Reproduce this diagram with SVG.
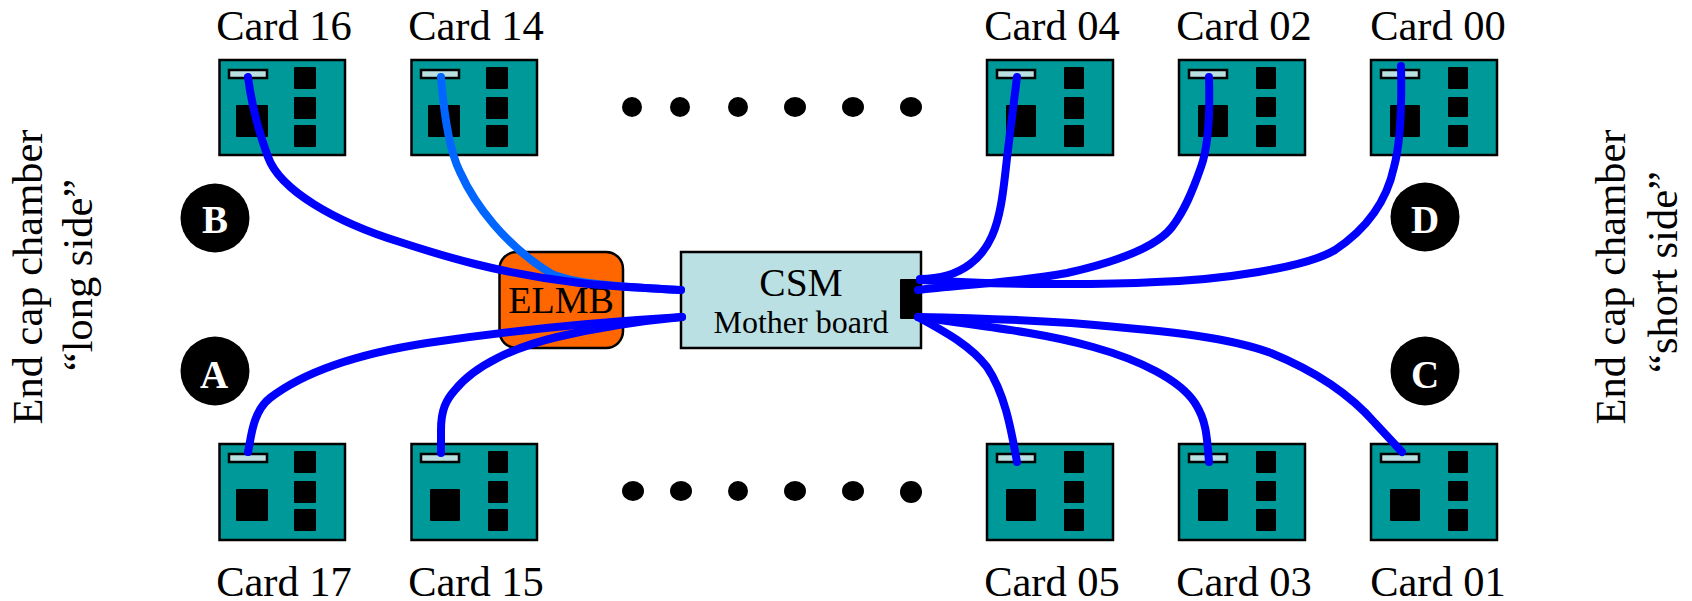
<svg xmlns="http://www.w3.org/2000/svg" width="1692" height="601" viewBox="0 0 1692 601">
<style>
text{font-family:"Liberation Serif","Times New Roman",serif;fill:#000;text-anchor:middle}
.lbl{font-size:42.500px}
.board{fill:#009999;stroke:#000;stroke-width:2.5}
.slot{fill:#BBE0E3;stroke:#000;stroke-width:2.5}
.chip{fill:#000}
.dot{fill:#000}
.badge{fill:#000}
.bt{fill:#fff;font-size:39px;font-weight:bold}
.w{fill:none;stroke:#0000FF;stroke-width:8;stroke-linecap:round;stroke-linejoin:round}
</style>
<rect width="1692" height="601" fill="#fff"/>
<g id="card16"><rect class="board" x="219.500" y="60" width="125.500" height="95"/><rect class="slot" x="229" y="70" width="38" height="8"/><rect class="chip" x="236" y="105" width="32" height="32" rx="1"/><rect class="chip" x="294" y="67" width="22" height="22" rx="1"/><rect class="chip" x="294" y="97" width="22" height="22" rx="1"/><rect class="chip" x="294" y="125" width="22" height="22" rx="1"/><text class="lbl" x="284" y="40">Card 16</text></g>
<g id="card14"><rect class="board" x="411.500" y="60" width="125.500" height="95"/><rect class="slot" x="421" y="70" width="38" height="8"/><rect class="chip" x="428" y="105" width="32" height="32" rx="1"/><rect class="chip" x="486" y="67" width="22" height="22" rx="1"/><rect class="chip" x="486" y="97" width="22" height="22" rx="1"/><rect class="chip" x="486" y="125" width="22" height="22" rx="1"/><text class="lbl" x="476" y="40">Card 14</text></g>
<g id="card04"><rect class="board" x="987" y="60" width="126" height="95"/><rect class="slot" x="997" y="70" width="38" height="8"/><rect class="chip" x="1006" y="105" width="30" height="32" rx="1"/><rect class="chip" x="1064" y="67" width="20" height="22" rx="1"/><rect class="chip" x="1064" y="97" width="20" height="22" rx="1"/><rect class="chip" x="1064" y="125" width="20" height="22" rx="1"/><text class="lbl" x="1052" y="40">Card 04</text></g>
<g id="card02"><rect class="board" x="1179" y="60" width="126" height="95"/><rect class="slot" x="1189" y="70" width="38" height="8"/><rect class="chip" x="1198" y="105" width="30" height="32" rx="1"/><rect class="chip" x="1256" y="67" width="20" height="22" rx="1"/><rect class="chip" x="1256" y="97" width="20" height="20" rx="1"/><rect class="chip" x="1256" y="125" width="20" height="22" rx="1"/><text class="lbl" x="1244" y="40">Card 02</text></g>
<g id="card00"><rect class="board" x="1371" y="60" width="126" height="95"/><rect class="slot" x="1381" y="70" width="38" height="8"/><rect class="chip" x="1390" y="105" width="30" height="32" rx="1"/><rect class="chip" x="1448" y="67" width="20" height="22" rx="1"/><rect class="chip" x="1448" y="97" width="20" height="20" rx="1"/><rect class="chip" x="1448" y="125" width="20" height="22" rx="1"/><text class="lbl" x="1438" y="40">Card 00</text></g>
<g id="card17"><rect class="board" x="219.500" y="444" width="125.500" height="96"/><rect class="slot" x="229" y="454" width="38" height="8"/><rect class="chip" x="236" y="489" width="32" height="32" rx="1"/><rect class="chip" x="294" y="451" width="22" height="22" rx="1"/><rect class="chip" x="294" y="481" width="22" height="22" rx="1"/><rect class="chip" x="294" y="509" width="22" height="22" rx="1"/><text class="lbl" x="284" y="596">Card 17</text></g>
<g id="card15"><rect class="board" x="411.500" y="444" width="125.500" height="96"/><rect class="slot" x="421" y="454" width="38" height="8"/><rect class="chip" x="430" y="489" width="30" height="32" rx="1"/><rect class="chip" x="488" y="451" width="20" height="22" rx="1"/><rect class="chip" x="488" y="481" width="20" height="22" rx="1"/><rect class="chip" x="488" y="509" width="20" height="22" rx="1"/><text class="lbl" x="476" y="596">Card 15</text></g>
<g id="card05"><rect class="board" x="987" y="444" width="126" height="96"/><rect class="slot" x="997" y="454" width="38" height="8"/><rect class="chip" x="1006" y="489" width="30" height="32" rx="1"/><rect class="chip" x="1064" y="451" width="20" height="22" rx="1"/><rect class="chip" x="1064" y="481" width="20" height="22" rx="1"/><rect class="chip" x="1064" y="509" width="20" height="22" rx="1"/><text class="lbl" x="1052" y="596">Card 05</text></g>
<g id="card03"><rect class="board" x="1179" y="444" width="126" height="96"/><rect class="slot" x="1189" y="454" width="38" height="8"/><rect class="chip" x="1198" y="489" width="30" height="32" rx="1"/><rect class="chip" x="1256" y="451" width="20" height="22" rx="1"/><rect class="chip" x="1256" y="481" width="20" height="20" rx="1"/><rect class="chip" x="1256" y="509" width="20" height="22" rx="1"/><text class="lbl" x="1244" y="596">Card 03</text></g>
<g id="card01"><rect class="board" x="1371" y="444" width="126" height="96"/><rect class="slot" x="1381" y="454" width="38" height="8"/><rect class="chip" x="1390" y="489" width="30" height="32" rx="1"/><rect class="chip" x="1448" y="451" width="20" height="22" rx="1"/><rect class="chip" x="1448" y="481" width="20" height="20" rx="1"/><rect class="chip" x="1448" y="509" width="20" height="22" rx="1"/><text class="lbl" x="1438" y="596">Card 01</text></g>
<g id="elmb"><rect x="499.500" y="252" width="123.500" height="96" rx="17" fill="#FF6600" stroke="#000" stroke-width="2.500"/><text x="561" y="313" font-size="38">ELMB</text></g>
<g id="csm"><rect x="681" y="252" width="240" height="96" fill="#BBE0E3" stroke="#000" stroke-width="2.500"/><rect x="900" y="279" width="21.500" height="40" rx="1" fill="#000"/><text x="801" y="296" font-size="39.500">CSM</text><text x="801" y="333" font-size="32">Mother board</text></g>
<g id="badgeB"><circle class="badge" cx="215" cy="218" r="34.500"/><text class="bt" x="215" y="233">B</text></g>
<g id="badgeA"><circle class="badge" cx="215" cy="371" r="34.500"/><text class="bt" x="214" y="388">A</text></g>
<g id="badgeD"><circle class="badge" cx="1425" cy="217" r="34.500"/><text class="bt" x="1425" y="233">D</text></g>
<g id="badgeC"><circle class="badge" cx="1425" cy="371" r="34.500"/><text class="bt" x="1425" y="388">C</text></g>
<g id="dots-top"><ellipse class="dot" cx="632" cy="107" rx="10" ry="10"/><ellipse class="dot" cx="680" cy="107" rx="10" ry="10"/><ellipse class="dot" cx="738" cy="107" rx="10" ry="10"/><ellipse class="dot" cx="795" cy="107" rx="11" ry="10"/><ellipse class="dot" cx="853" cy="107" rx="11" ry="10"/><ellipse class="dot" cx="911" cy="107" rx="11" ry="10"/></g>
<g id="dots-bottom"><ellipse class="dot" cx="633" cy="491" rx="11" ry="10"/><ellipse class="dot" cx="681" cy="491" rx="11" ry="10"/><ellipse class="dot" cx="738" cy="491" rx="10" ry="10"/><ellipse class="dot" cx="795" cy="491" rx="11" ry="10"/><ellipse class="dot" cx="853" cy="491" rx="11" ry="10"/><ellipse class="dot" cx="911" cy="492" rx="11" ry="11"/></g>
<g id="side-left"><text class="lbl" transform="translate(42 277) rotate(-90)">End cap chamber</text><text class="lbl" transform="translate(92 275) rotate(-90)">“long side”</text></g>
<g id="side-right"><text class="lbl" transform="translate(1625 277) rotate(-90)">End cap chamber</text><text class="lbl" transform="translate(1677 272) rotate(-90)">“short side”</text></g>
<g id="connectors">
<path class="w" style="stroke:#0066FF" d="M441 77C444 115 449 150 460 172C475 205 505 245 550 273C575 285 630 287 681 290"/>
<path class="w" d="M248 77C252 108 258 130 268 157C280 190 335 222 400 242C440 255 500 274 580 283C615 287 650 288 681 290"/>
<path class="w" d="M248 452C251 440 252 412 270 398C300 375 350 355 427 343C500 332 600 322 682 317"/>
<path class="w" d="M441 453L441 430C441 410 446 400 455 390C475 365 515 347 557 337C600 327 640 321 682 317"/>
<path class="w" d="M1017 77C1013 110 1009 140 1006 167C1003 195 1000 218 992 236C984 254 965 279 920 279"/>
<path class="w" d="M1209 77C1210 110 1209 145 1201 167C1193 190 1185 210 1172 227C1159 244 1125 260 1067 273C1020 282 960 285 918 290"/>
<path class="w" d="M1401 66C1402 110 1400 145 1394 167C1387 200 1368 228 1335 250C1305 268 1220 280 1156 282C1100 285 1000 285 920 280"/>
<path class="w" d="M1017 462C1012 435 1006 395 987 367C970 345 945 332 918 317"/>
<path class="w" d="M1209 462C1207 435 1206 420 1195 403C1180 380 1140 360 1093 347C1040 332 980 326 918 317"/>
<path class="w" d="M1402 452L1375 423C1355 400 1325 375 1271 353C1230 338 1180 332 1071 323C1010 319 970 318 918 317"/>
</g>
</svg>
